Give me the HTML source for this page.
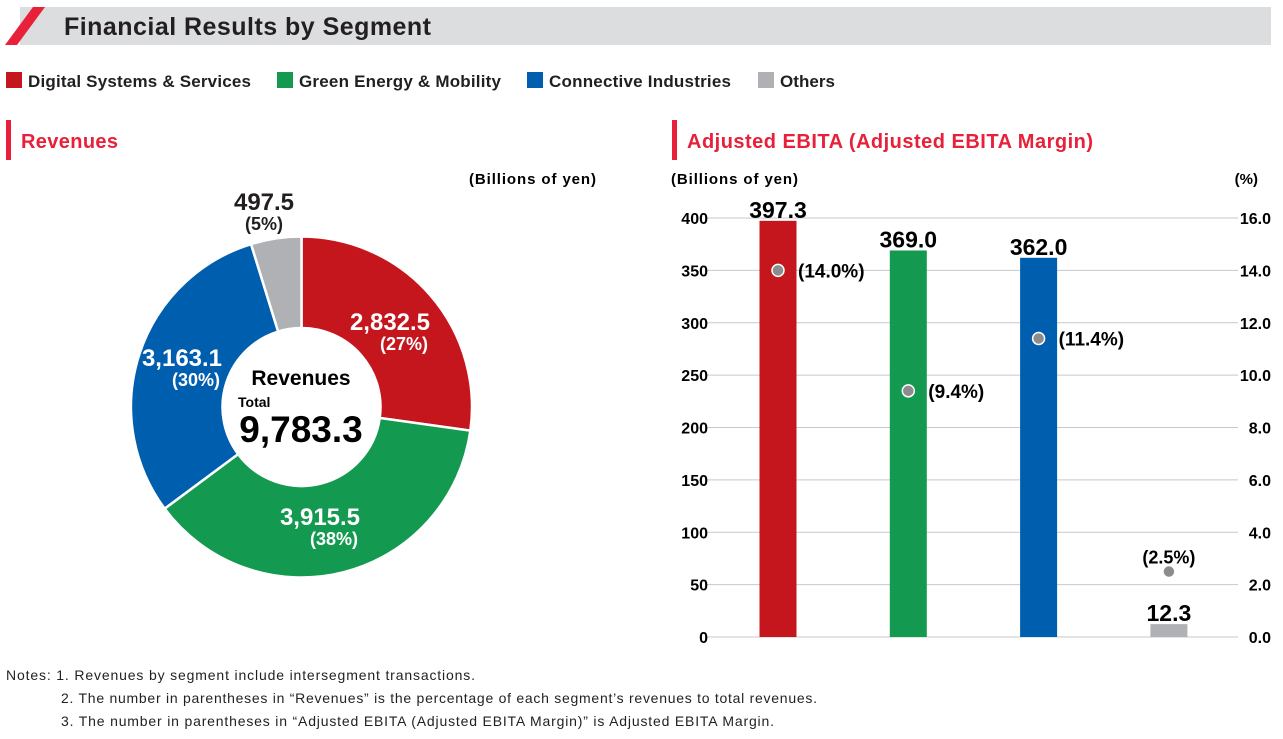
<!DOCTYPE html>
<html><head><meta charset="utf-8"><style>
body{margin:0;width:1283px;height:739px;background:#fff;font-family:"Liberation Sans",Arial,sans-serif;overflow:hidden;position:relative;color:#231f20}
.abs{position:absolute}
</style></head><body>
<svg class="abs" style="left:0;top:0" width="1283" height="739">
<rect x="20" y="7" width="1251" height="38" fill="#dcdddf"/>
<polygon points="5,45 17,45 45,7 33,7" fill="#e8203a"/>
<text x="64" y="35" font-size="25" font-weight="bold" fill="#231f20" textLength="367">Financial Results by Segment</text>
<g font-size="17" font-weight="bold" fill="#231f20">
<rect x="6" y="72" width="16" height="16" fill="#c4161c"/><text x="28" y="87" textLength="223">Digital Systems &amp; Services</text>
<rect x="277" y="72" width="16" height="16" fill="#139a50"/><text x="299" y="87" textLength="202">Green Energy &amp; Mobility</text>
<rect x="527" y="72" width="16" height="16" fill="#005eae"/><text x="549" y="87" textLength="182">Connective Industries</text>
<rect x="758" y="72" width="16" height="16" fill="#afb1b4"/><text x="780" y="87" textLength="55">Others</text>
</g>
<rect x="6" y="120" width="5" height="40" fill="#e8203a"/>
<text x="21" y="148" font-size="20" font-weight="bold" fill="#e8203a" textLength="97">Revenues</text>
<rect x="672" y="120" width="5" height="40" fill="#e8203a"/>
<text x="687" y="148" font-size="20" font-weight="bold" fill="#e8203a" textLength="406">Adjusted EBITA (Adjusted EBITA Margin)</text>
<text x="469" y="184" font-size="15" font-weight="bold" textLength="127">(Billions of yen)</text>
<text x="671" y="184" font-size="15" font-weight="bold" textLength="127">(Billions of yen)</text>
<text x="1258" y="184" font-size="15" font-weight="bold" text-anchor="end">(%)</text>
<g id="pie"></g>
<g id="bars"></g>
<g font-size="14" fill="#231f20">
<text x="6" y="680" textLength="469">Notes:  1. Revenues by segment include intersegment transactions.</text>
<text x="61" y="703" textLength="756">2. The number in parentheses in “Revenues” is the percentage of each segment’s revenues to total revenues.</text>
<text x="61" y="726" textLength="713">3. The number in parentheses in “Adjusted EBITA (Adjusted EBITA Margin)” is Adjusted EBITA Margin.</text>
</g>
</svg>
<script>
const segments=["Digital Systems & Services","Green Energy & Mobility","Connective Industries","Others"];
const colors=["#c4161c","#139a50","#005eae","#afb1b4"];
const revenues=[2832.5,3915.5,3163.1,497.5];
const revLabels=["2,832.5","3,915.5","3,163.1","497.5"];
const revPct=["(27%)","(38%)","(30%)","(5%)"];
const ebita=[397.3,369.0,362.0,12.3];
const ebitaLabels=["397.3","369.0","362.0","12.3"];
const margins=[14.0,9.4,11.4,2.5];
const marginLabels=["(14.0%)","(9.4%)","(11.4%)","(2.5%)"];
const leftTicks=[0,50,100,150,200,250,300,350,400];
const rightTicks=["0.0","2.0","4.0","6.0","8.0","10.0","12.0","14.0","16.0"];
const NS="http://www.w3.org/2000/svg";
function mk(parent,tag,attrs,text){const e=document.createElementNS(NS,tag);for(const k in attrs)e.setAttribute(k,attrs[k]);if(text!=null)e.textContent=text;parent.appendChild(e);return e;}
// pie
const pie=document.getElementById('pie');
const cx=301.5,cy=407,R=170.5,r0=79;
const sum=revenues.reduce((a,b)=>a+b,0);
let a0=0;
const pt=(a,rad)=>[cx+rad*Math.sin(a),cy-rad*Math.cos(a)];
const labelPos=[[390,330],[320,525],[182,366],[264,210]];
revenues.forEach((v,i)=>{
 const a1=a0+v/sum*2*Math.PI;
 const [x1,y1]=pt(a0,R),[x2,y2]=pt(a1,R),[x3,y3]=pt(a1,r0),[x4,y4]=pt(a0,r0);
 const lg=(a1-a0)>Math.PI?1:0;
 const p=mk(pie,'path',{d:`M${x1},${y1}A${R},${R} 0 ${lg} 1 ${x2},${y2}L${x3},${y3}A${r0},${r0} 0 ${lg} 0 ${x4},${y4}Z`,fill:colors[i],stroke:'#fff','stroke-width':2.5});
 
 
 a0=a1;
});
mk(pie,'circle',{cx:cx,cy:cy,r:r0,fill:'#fff'});
revenues.forEach((v,i)=>{
 const [lx,ly]=labelPos[i];const fill=i===3?'#231f20':'#fff';
 const t=mk(pie,'text',{x:lx,y:ly,'font-size':24,'font-weight':'bold','text-anchor':'middle',fill:fill},revLabels[i]);
 
 
 const t2=mk(pie,'text',{x:lx+(i===3?0:14),y:ly+20,'font-size':18,'font-weight':'bold','text-anchor':'middle',fill:fill},revPct[i]);
 
 
});
const c1=mk(pie,'text',{x:301,y:385,'font-size':21,'font-weight':'bold','text-anchor':'middle'},'Revenues');


const c2=mk(pie,'text',{x:238,y:407,'font-size':14,'font-weight':'bold'},'Total');


const c3=mk(pie,'text',{x:301,y:442,'font-size':37,'font-weight':'bold','text-anchor':'middle'},'9,783.3');


// bars
const bars=document.getElementById('bars');
const y0=637,y400=218;
const yL=v=>y0-(v/400)*(y0-y400);
const yR=v=>y0-(v/16)*(y0-y400);
const xC=i=>778+i*130.3;
leftTicks.forEach((t,i)=>{
 const y=yL(t);
 const g=mk(bars,'line',{x1:707,x2:1238,y1:y,y2:y,stroke:'#c8c9cb','stroke-width':1});
 
 
 const l=mk(bars,'text',{x:708,y:y+6,'font-size':16,'font-weight':'bold','text-anchor':'end'},t);
 
 
 const rt=mk(bars,'text',{x:1271,y:y+6,'font-size':16,'font-weight':'bold','text-anchor':'end'},rightTicks[i]);
 
 
});
ebita.forEach((v,i)=>{
 const x=xC(i);
 const b=mk(bars,'rect',{x:x-18.5,y:yL(v),width:37,height:y0-yL(v),fill:colors[i]});
 
 
 const t=mk(bars,'text',{x:x,y:yL(v)-3,'font-size':23,'font-weight':'bold','text-anchor':'middle'},ebitaLabels[i]);
 
 
 const my=yR(margins[i]);
 const d=mk(bars,'circle',{cx:x,cy:my,r:6,fill:'#8c8c8e',stroke:'#fff','stroke-width':1.5});
 
 
 const ml=i===3?mk(bars,'text',{x:x,y:my-8,'font-size':18,'font-weight':'bold','text-anchor':'middle'},marginLabels[i])
  :mk(bars,'text',{x:x+20,y:my+7,'font-size':19,'font-weight':'bold'},marginLabels[i]);
 
 
});
</script>
</body></html>
